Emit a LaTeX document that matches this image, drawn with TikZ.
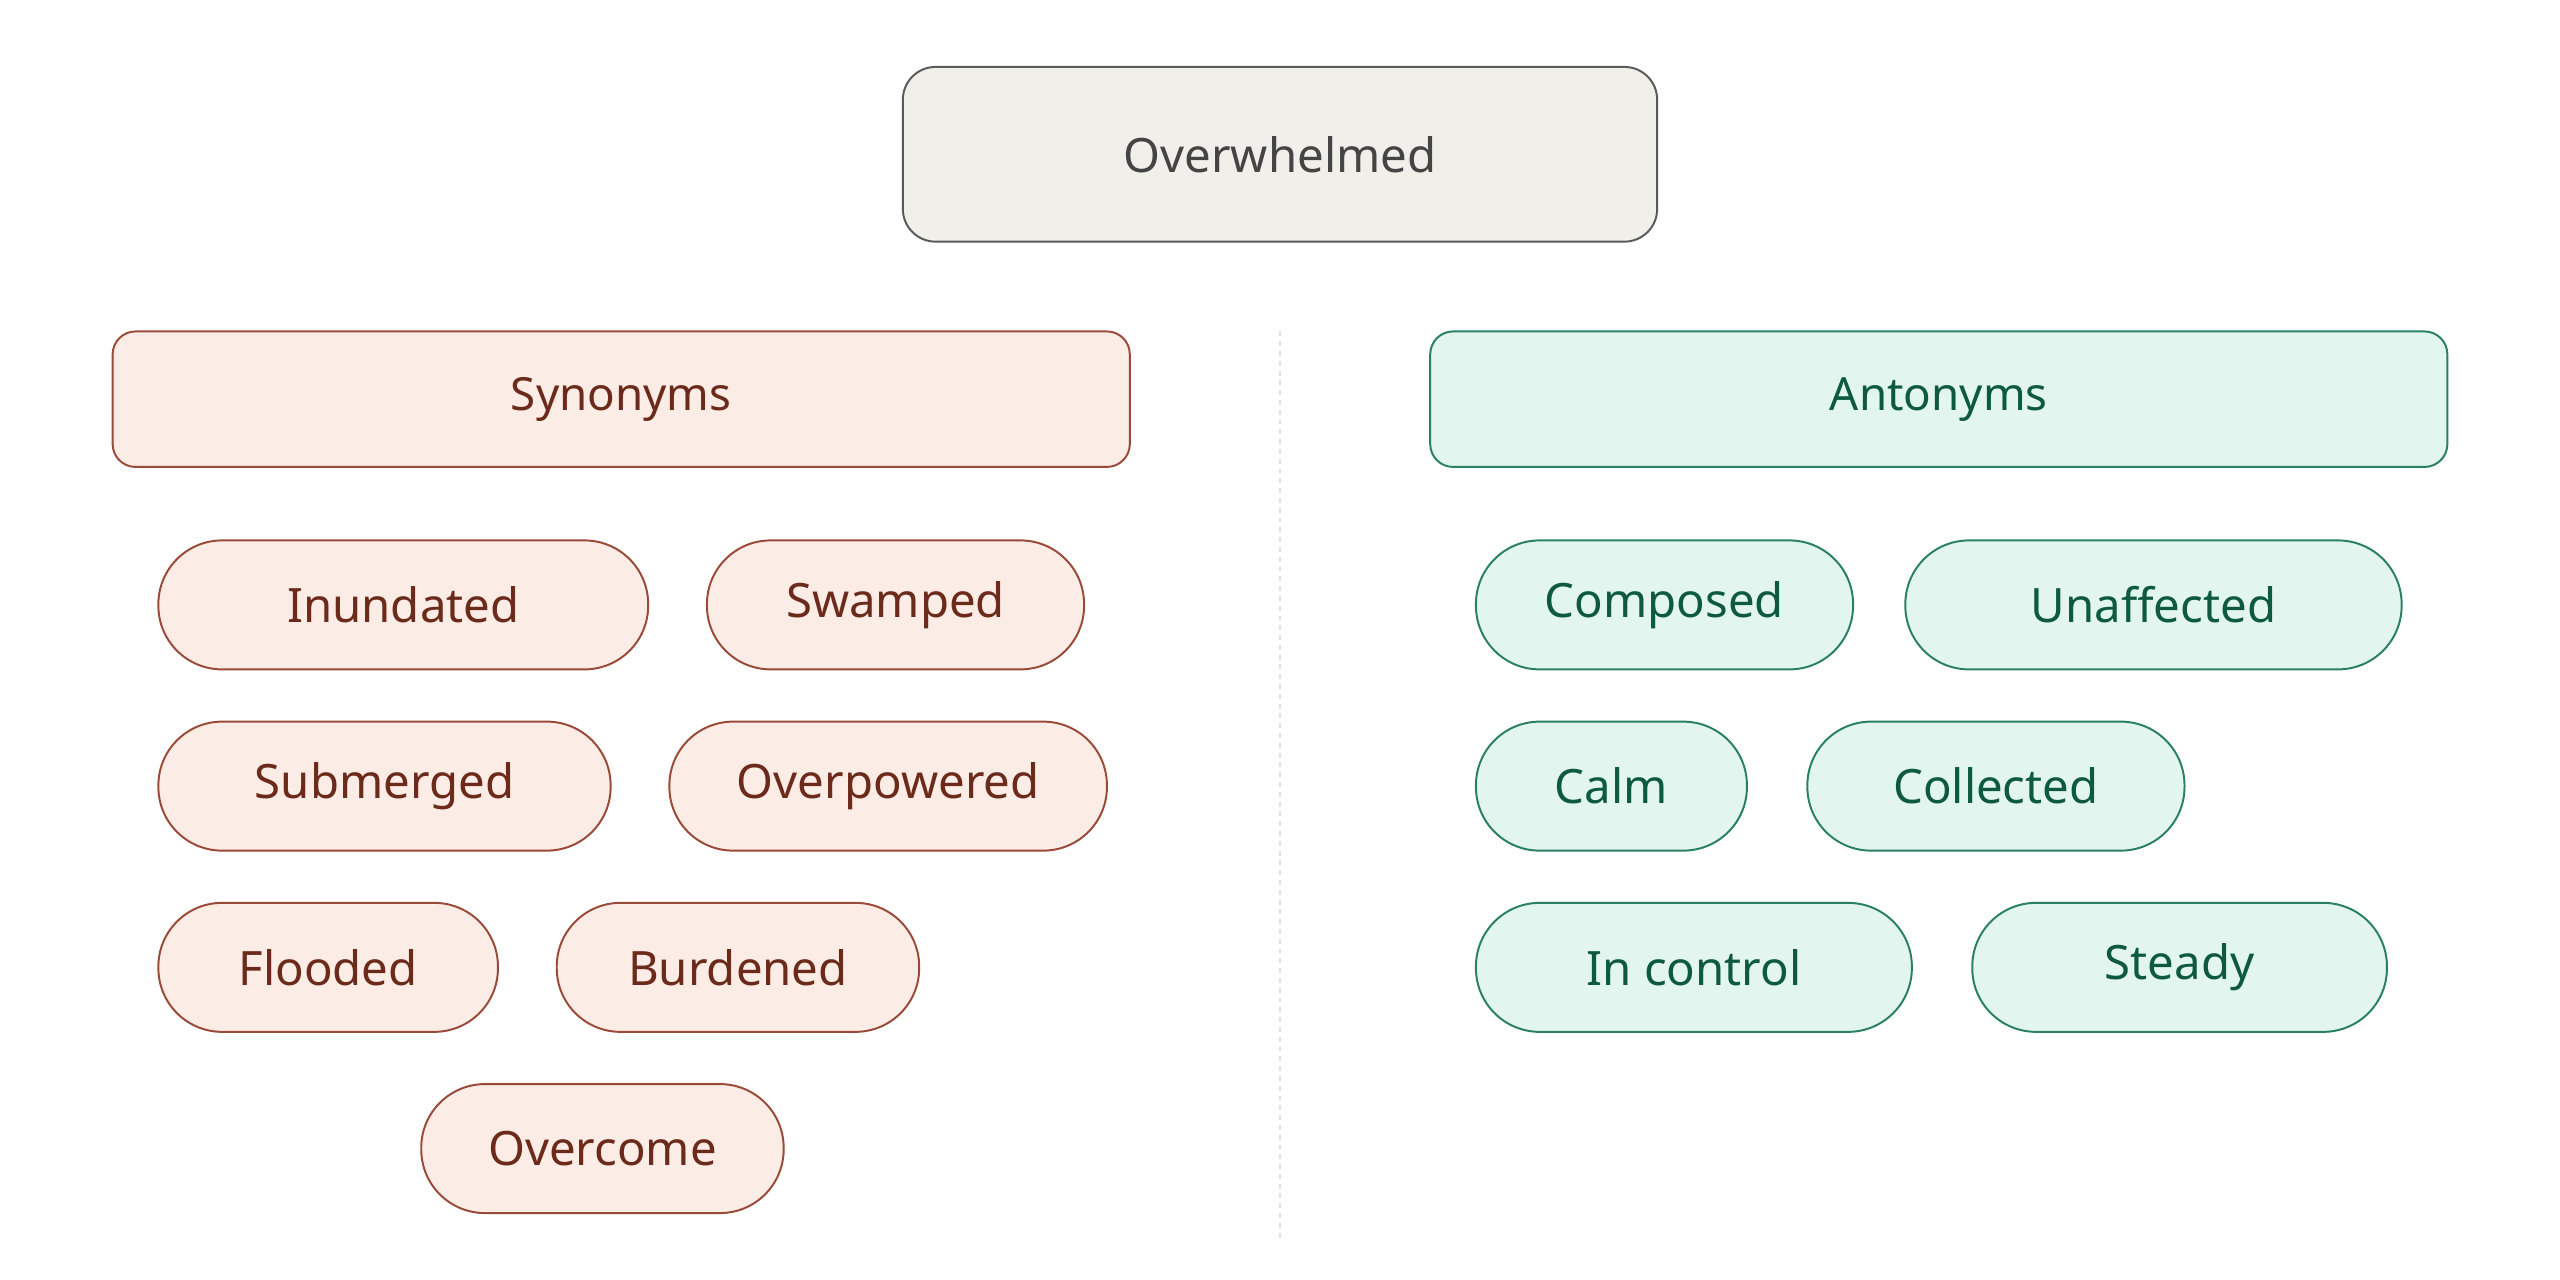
\documentclass[tikz,border=0pt]{standalone}
\usepackage{fontspec}
\setmainfont{Noto Sans}
\definecolor{topf}{HTML}{F0EFEA}\definecolor{topd}{HTML}{5A5A5A}\definecolor{topt}{HTML}{444444}
\definecolor{synf}{HTML}{FBECE6}\definecolor{synd}{HTML}{9A4A38}\definecolor{synt}{HTML}{6B2A1A}
\definecolor{antf}{HTML}{E2F5EE}\definecolor{antd}{HTML}{2A8064}\definecolor{antt}{HTML}{0E5A40}
\begin{document}
\begin{tikzpicture}[x=1pt,y=-1pt,
 box/.style={draw,line width=1.2pt,rounded corners=14pt,inner sep=0pt},
 syn/.style={box,fill=synf,draw=synd,text=synt},
 ant/.style={box,fill=antf,draw=antd,text=antt},
 pill/.style={rounded corners=39pt,font=\fontsize{29}{34}\selectfont}]
\useasboundingbox (0,0) rectangle (1568,784);
\fill[white] (0,0) rectangle (1568,784);
\newcommand{\bx}[6]{\node[#1,minimum width=#3-#2,minimum height=#5-#4] (#6) at ({(#2+#3)/2},{(#4+#5)/2}) {};}
\node[box,fill=topf,draw=topd,text=topt,minimum width=462,minimum height=107,rounded corners=20pt,font=\bfseries\fontsize{29}{34}\selectfont] (top) at (784,94.5) {Overwhelmed};
\draw[dashed,gray!25,line width=1pt] (784,203) coordinate (d1) -- (784,760) coordinate (d2);
\node[syn,minimum width=623,minimum height=83,font=\bfseries\fontsize{28}{34}\selectfont] (sh) at (380.5,244.5) {Synonyms};
\node[ant,minimum width=623,minimum height=83,font=\bfseries\fontsize{28}{34}\selectfont] (ah) at (1187.5,244.5) {Antonyms};
\foreach \a/\b/\y/\t/\n in {97/397/370.5/Inundated/s1,433/664/370.5/Swamped/s2,97/374/481.5/Submerged/s3,410/678/481.5/Overpowered/s4,97/305/592.5/Flooded/s5,341/563/592.5/Burdened/s6,258/480/703.5/Overcome/s7}
 \node[syn,pill,minimum width=\b-\a,minimum height=79] (\n) at ({(\a+\b)/2},\y) {\t};
\foreach \a/\b/\y/\t/\n in {904/1135/370.5/Composed/a1,1167/1471/370.5/Unaffected/a2,904/1070/481.5/Calm/a3,1107/1338/481.5/Collected/a4,904/1171/592.5/In control/a5,1208/1462/592.5/Steady/a6}
 \node[ant,pill,minimum width=\b-\a,minimum height=79] (\n) at ({(\a+\b)/2},\y) {\t};
\end{tikzpicture}
\end{document}
